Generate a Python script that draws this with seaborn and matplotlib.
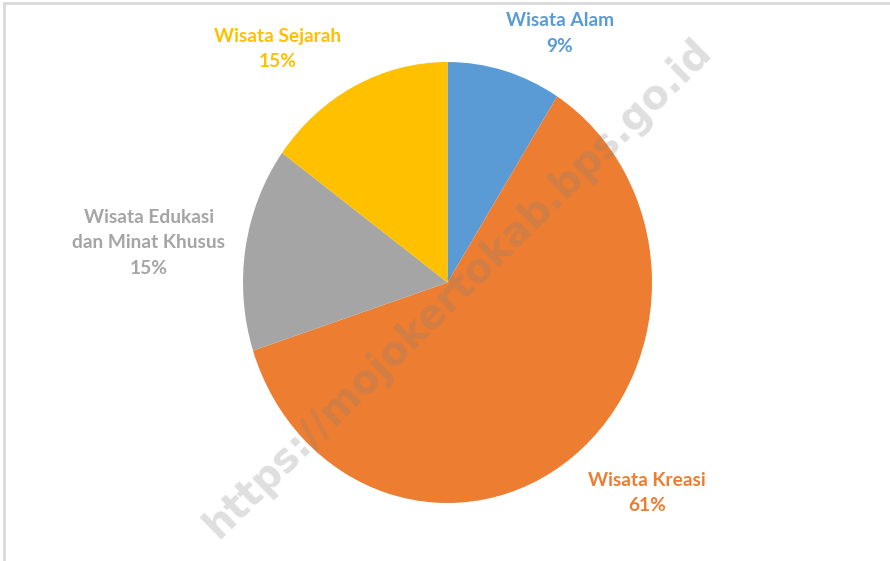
import matplotlib
matplotlib.use('Agg')
import matplotlib.pyplot as plt
import seaborn as sns
from matplotlib.patches import Rectangle

# Data
categories = ['Wisata Alam', 'Wisata Kreasi', 'Wisata Edukasi\ndan Minat Khusus', 'Wisata Sejarah']
shares = [9, 61, 15, 15]
colors = ['#5B9BD5', '#ED7D31', '#A5A5A5', '#FFC000']

# label block centres, in pie-radius units
label_pos = [(0.55, 1.13), (0.975, -0.955), (-1.46, 0.18), (-0.83, 1.06)]

sns.set_theme(style='white')
plt.rcParams['font.family'] = ['Lato', 'DejaVu Sans']

fig = plt.figure(figsize=(8.9, 5.61), dpi=100)
fig.patch.set_facecolor('white')

# light frame on top / left edge like the excel chart area
fig.patches.append(Rectangle((4 / 890, -0.05), 1.1, (561 - 3) / 561 + 0.05,
                             transform=fig.transFigure, fill=False,
                             edgecolor='#d9d9d9', linewidth=2))

ax = fig.add_axes([243 / 890, (561 - 503) / 561, 409 / 890, 441 / 561])
ax.pie(shares, colors=colors, startangle=90, counterclock=False,
       wedgeprops=dict(linewidth=0))
ax.set_aspect('auto')
ax.set_xlim(-1, 1)
ax.set_ylim(-1, 1)
ax.axis('off')

for cat, val, col, (x, y) in zip(categories, shares, colors, label_pos):
    ax.text(x, y, f'{cat}\n{val}%', ha='center', va='center', color=col,
            fontsize=13.8, fontweight='bold', linespacing=1.6, clip_on=False)

# watermark
fig.text(458 / 890, 1 - 288 / 561, 'https://mojokertokab.bps.go.id',
         ha='center', va='center', rotation=44.5, fontsize=28.5,
         fontweight='bold', color='#808080', alpha=0.25,
         family=['DejaVu Sans'])

fig.savefig('out.png', dpi=100, facecolor='white')
